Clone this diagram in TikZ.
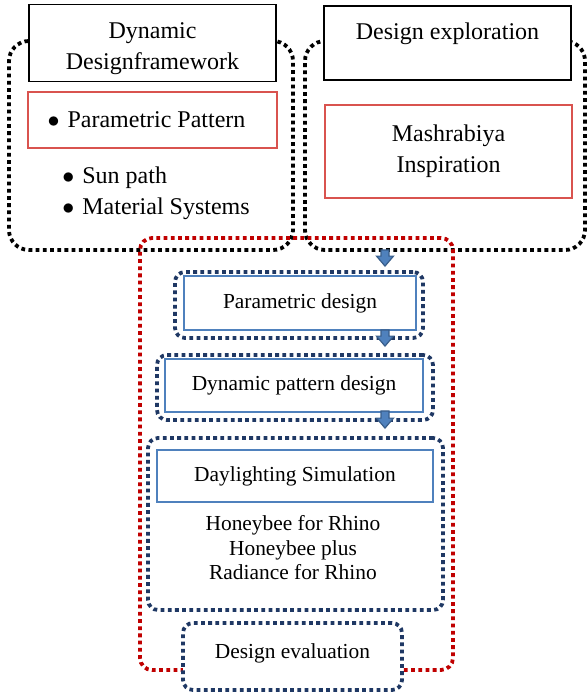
\documentclass[tikz,border=0pt]{standalone}
\usepackage{fontspec}
\setmainfont{Liberation Serif}
\usepackage{xcolor}
\usepackage{tikz}
\usetikzlibrary{arrows.meta, positioning, calc}

\definecolor{dotblack}{HTML}{000000}
\definecolor{dotred}{HTML}{C00000}
\definecolor{dotnavy}{HTML}{1F3864}
\definecolor{boxred}{HTML}{D9534F}
\definecolor{boxblue}{HTML}{4F81BD}
\definecolor{arrowfill}{HTML}{4F81BD}
\definecolor{arrowline}{HTML}{385D8A}

\begin{document}
\begin{tikzpicture}[x=0.5pt, y=-0.5pt, font=\fontsize{10.7}{12.25}\selectfont,
    bigtext/.style={font=\fontsize{12}{15.5}\selectfont},
    dotframe/.style={line width=1.9pt, dash pattern=on 1.9pt off 1.7pt, draw=#1},
    blackframe/.style={dotframe=dotblack, rounded corners=10pt},
    redframe/.style={dotframe=dotred, rounded corners=6pt},
    navyframe/.style={dotframe=dotnavy, rounded corners=5pt},
    titlebox/.style={draw, fill=white, line width=0.6pt, align=center, bigtext},
    redbox/.style={draw=boxred, fill=white, line width=0.6pt, align=center, bigtext},
    bluebox/.style={draw=boxblue, fill=white, line width=0.6pt, align=center},
    flowarrow/.style={fill=arrowfill, draw=arrowline, line width=0.6pt,
        to path={let \p1=(\tikztostart), \p2=(\tikztotarget) in
            (\x1-2pt,\y1) -- (\x1+2pt,\y1) -- (\x1+2pt,\y2+5pt)
            -- (\x1+4.25pt,\y2+5pt) -- (\x1,\y2) -- (\x1-4.25pt,\y2+5pt)
            -- (\x1-2pt,\y2+5pt) -- cycle}}]
        \useasboundingbox (0,0) rectangle (586,695);

        % Dotted frames
        \node[blackframe, minimum width=142pt, minimum height=104.5pt] (lframe) at (151,145.5) {};
        \node[blackframe, minimum width=140pt, minimum height=104.5pt] (rframe) at (445,145.5) {};
        \node[redframe, minimum width=156.5pt, minimum height=216pt] (rdframe) at (296.5,454) {};
        \node[navyframe, minimum width=124pt, minimum height=33pt] (pdframe) at (299,305) {};
        \node[navyframe, minimum width=138pt, minimum height=32.5pt] (dpframe) at (295,387.5) {};
        \node[navyframe, minimum width=147.5pt, minimum height=86pt] (dsframe) at (295.5,524) {};

        % Left column
        \node[titlebox, minimum width=123.5pt, minimum height=37pt] (dyn) at (152.5,43) {\rule{0pt}{14pt}Dynamic\\Designframework};
        \node[redbox, minimum width=124.5pt, minimum height=28pt] (pattern) at (152.5,120) {$\bullet$\hspace{4pt}Parametric Pattern\hspace{6pt}};
        \node[anchor=north west, align=left, inner sep=0pt, bigtext] (inputs) at (62,166) {$\bullet$\hspace{4pt}Sun path\\$\bullet$\hspace{4pt}Material Systems};

        % Right column
        \node[titlebox, minimum width=123.5pt, minimum height=37pt] (explore) at (447.5,43) {\rule{0pt}{12pt}Design exploration\\\mbox{}};
        \node[redbox, minimum width=123.5pt, minimum height=46.5pt] (mashra) at (448.5,151.5) {Mashrabiya\\Inspiration};

        % Process steps
        \node[bluebox, minimum width=116pt, minimum height=27pt] (param) at (300,303) {Parametric design};
        \node[bluebox, minimum width=129pt, minimum height=26.5pt] (dynpat) at (294,385.5) {Dynamic pattern design};
        \node[bluebox, minimum width=138pt, minimum height=26pt] (daylight) at (295,476) {Daylighting Simulation};
        \node[align=center] (tools) at (293,548) {Honeybee for Rhino\\Honeybee plus\\Radiance for Rhino};
        \node[navyframe, fill=white, minimum width=109.5pt, minimum height=33.5pt] (evalframe) at (292.5,656.5) {Design evaluation\rule[-5pt]{0pt}{5pt}};

        % Flow arrows
        \coordinate (ax) at (385,0);
        \draw[flowarrow] ($(ax |- rframe.south)+(0,-2)$) to ($(ax |- pdframe.north)+(0,-4)$);
        \draw[flowarrow] ($(ax |- pdframe.south)+(0,-10)$) to ($(ax |- dpframe.north)+(0,-7)$);
        \draw[flowarrow] ($(ax |- dpframe.south)+(0,-11)$) to ($(ax |- dsframe.north)+(0,-8)$);

    \end{tikzpicture}
\end{document}
